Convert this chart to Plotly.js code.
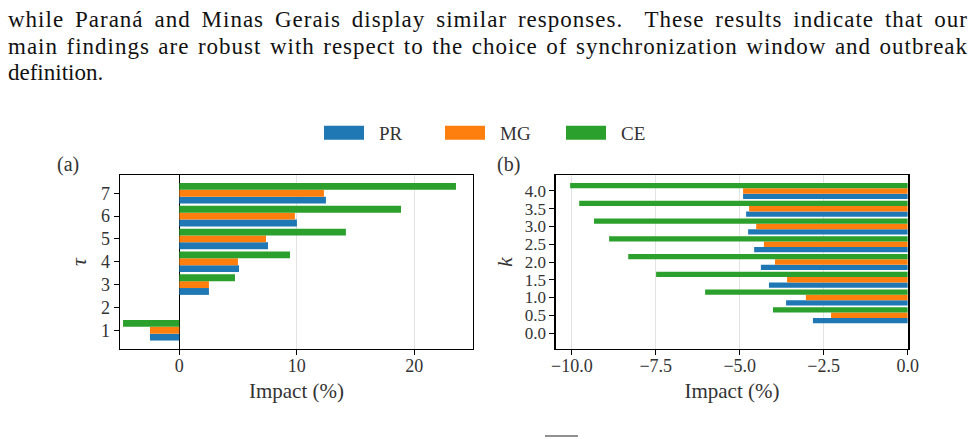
<!DOCTYPE html>
<html>
<head>
<meta charset="utf-8">
<script src="https://cdn.plot.ly/plotly-3.0.1.min.js"></script>
<style>html,body{margin:0;padding:0;background:#fff;}#chart{width:976px;height:439px;}</style>
</head>
<body>
<div id="chart"></div>
<script>
// ---- data ----
const seriesNames = ["PR", "MG", "CE"];
const seriesColors = ["#1f77b4", "#ff7f0e", "#2ca02c"];
// panel (a): synchronization window tau
const tauValues = [1, 2, 3, 4, 5, 6, 7];
const impactPR_tau = [-2.50, null, 2.52, 5.08, 7.55, 10.01, 12.48];
const impactMG_tau = [-2.50, null, 2.52, 4.99, 7.38, 9.84, 12.31];
const impactCE_tau = [-4.79, null, 4.74, 9.42, 14.18, 18.87, 23.55];
// panel (b): outbreak threshold k
const kValues = [0.0, 0.5, 1.0, 1.5, 2.0, 2.5, 3.0, 3.5, 4.0];
const impactPR_k = [null, -2.82, -3.62, -4.13, -4.37, -4.57, -4.75, -4.81, -4.90];
const impactMG_k = [null, -2.28, -3.03, -3.59, -3.95, -4.28, -4.51, -4.72, -4.90];
const impactCE_k = [null, -4.01, -6.03, -7.49, -8.32, -8.89, -9.34, -9.78, -10.05];
const paragraphLines = [
  "while Paraná and Minas Gerais display similar responses.  These results indicate that our",
  "main findings are robust with respect to the choice of synchronization window and outbreak",
  "definition."
];

const FONT = "Liberation Serif, DejaVu Serif, serif";
const W = 976, H = 439;
const px = v => v / W;
const py = v => 1 - v / H;

const aVals = [impactPR_tau, impactMG_tau, impactCE_tau];
const bVals = [impactPR_k, impactMG_k, impactCE_k];
const traces = [];
for (let i = 0; i < 3; i++) {
  traces.push({type: "bar", orientation: "h", name: seriesNames[i], x: aVals[i], y: tauValues,
    xaxis: "x", yaxis: "y", marker: {color: seriesColors[i]}, legendgroup: seriesNames[i],
    offsetgroup: String(i), hoverinfo: "skip"});
}
for (let i = 0; i < 3; i++) {
  traces.push({type: "bar", orientation: "h", name: seriesNames[i], x: bVals[i], y: kValues,
    xaxis: "x2", yaxis: "y2", marker: {color: seriesColors[i]}, legendgroup: seriesNames[i],
    offsetgroup: String(i), showlegend: false, hoverinfo: "skip"});
}

const axisCommon = {
  showline: true, mirror: true, linecolor: "#000", linewidth: 1.3,
  ticks: "outside", ticklen: 5, tickwidth: 1, tickcolor: "#000",
  tickfont: {family: FONT, size: 18, color: "#333"}
};
const yDom = [py(349), py(175)];

const annotations = paragraphLines.map((t, i) => ({
  text: t, xref: "paper", yref: "paper", x: px(6), y: py(20 + 26 * i),
  xanchor: "left", yanchor: "middle", align: "left", showarrow: false,
  font: {family: FONT, size: 23, color: "#111"}
}));
annotations.push({text: "(a)", xref: "paper", yref: "paper", x: px(68), y: py(165),
  xanchor: "center", yanchor: "middle", showarrow: false, font: {family: FONT, size: 20, color: "#333"}});
annotations.push({text: "(b)", xref: "paper", yref: "paper", x: px(509), y: py(165),
  xanchor: "center", yanchor: "middle", showarrow: false, font: {family: FONT, size: 20, color: "#333"}});

const layout = {
  width: W, height: H,
  margin: {l: 0, r: 0, t: 0, b: 0},
  paper_bgcolor: "#fff", plot_bgcolor: "#fff",
  barmode: "group", bargap: 0.1, bargroupgap: 0,
  font: {family: FONT, color: "#333"},
  showlegend: true,
  legend: {orientation: "h", x: px(309), xanchor: "left", y: py(133), yanchor: "middle",
    font: {family: FONT, size: 19, color: "#333"}, itemwidth: 60,
    entrywidth: 46, entrywidthmode: "pixels", traceorder: "normal", bgcolor: "rgba(0,0,0,0)"},
  xaxis: Object.assign({}, axisCommon, {domain: [px(120), px(473)], range: [-5.05, 25.0],
    tickvals: [0, 10, 20], showgrid: true, gridcolor: "#e3e3e3", gridwidth: 1,
    zeroline: true, zerolinecolor: "#000", zerolinewidth: 1.2, ticklabelstandoff: -5,
    title: {text: "Impact (%)", font: {family: FONT, size: 21, color: "#333"}, standoff: 8},
    anchor: "y"}),
  yaxis: Object.assign({}, axisCommon, {domain: yDom, range: [0.18, 7.8], tickvals: tauValues,
    showgrid: false, zeroline: false,
    title: {text: "<i>τ</i>", font: {family: FONT, size: 22, color: "#333"}, standoff: 8},
    anchor: "x"}),
  xaxis2: Object.assign({}, axisCommon, {domain: [px(555.7), px(908.3)], range: [-10.48, 0.02],
    tickvals: [-10, -7.5, -5, -2.5, 0], tickformat: ".1f", showgrid: true, gridcolor: "#e3e3e3", gridwidth: 1,
    zeroline: false, ticklabelstandoff: -5,
    title: {text: "Impact (%)", font: {family: FONT, size: 21, color: "#333"}, standoff: 8},
    anchor: "y2"}),
  yaxis2: Object.assign({}, axisCommon, {domain: yDom, range: [-0.45, 4.45], tickvals: kValues,
    tickformat: ".1f", showgrid: false, zeroline: false,
    tickfont: {family: FONT, size: 17, color: "#333"},
    title: {text: "<i>k</i>", font: {family: FONT, size: 22, color: "#333"}, standoff: 6},
    anchor: "x2"}),
  annotations: annotations,
  shapes: [{type: "line", xref: "paper", yref: "paper", x0: px(545), x1: px(578), y0: py(436), y1: py(436),
    line: {color: "#222", width: 1}}]
};

Plotly.newPlot("chart", traces, layout, {staticPlot: true, displayModeBar: false}).then(() => {
  document.querySelectorAll("g.legendpoints path").forEach(p => p.setAttribute("d", "M20,7H-20V-7H20Z"));
  // justify the first two paragraph lines: left edge x=8, right edge x=968 (like the typeset page)
  const leftX = 8, rightX = 968;
  const svgRoot = document.querySelector("#chart svg.main-svg");
  const originX = svgRoot ? svgRoot.getBoundingClientRect().left : 0;
  [0, 1].forEach(idx => {
    const t = document.querySelector('.annotation[data-index="' + idx + '"] text.annotation-text');
    if (!t) return;
    t.style.letterSpacing = "1px";
    const spaces = (paragraphLines[idx].match(/ +/g) || []).length;
    let ws = 0;
    for (let iter = 0; iter < 4; iter++) {
      const r = t.getBoundingClientRect();
      const right = r.right - originX;
      ws += (rightX - right) / spaces;
      t.style.wordSpacing = ws.toFixed(2) + "px";
    }
  });
});
</script>
</body>
</html>
